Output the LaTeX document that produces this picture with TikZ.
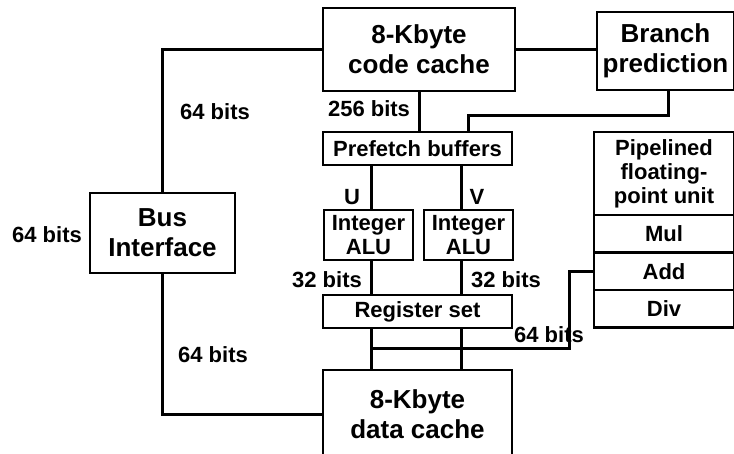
\documentclass[tikz,border=0pt]{standalone}
\usepackage{fontspec}
\setmainfont{Liberation Sans}
\usetikzlibrary{positioning, calc}
\newcommand{\bigtxt}{\fontsize{26}{30}\selectfont\bfseries}
\newcommand{\smalltxt}{\fontsize{22}{24}\selectfont\bfseries}
\tikzset{
  unit/.style={draw, line width=2.6pt, inner sep=0pt, outer sep=0pt, align=center, font=\bigtxt},
  subunit/.style={draw, line width=2.6pt, inner sep=0pt, outer sep=0pt, align=center, font=\smalltxt},
  buslabel/.style={font=\smalltxt, inner sep=0pt},
  bus/.style={line width=3pt}
}
\begin{document}
\begin{tikzpicture}[x=1pt, y=-1pt]
  \useasboundingbox (0,0) rectangle (734,453);
  \clip (0,0) rectangle (734,453);
  \fill[white] (0,0) rectangle (734,453);

  % main blocks
  \node[unit, minimum width=192pt, minimum height=83pt] (codecache) at (419,49.5) {8-Kbyte\\code cache};
  \node[unit, minimum width=137pt, minimum height=78pt] (branch) at (665.5,51) {Branch\\prediction};
  \node[unit, minimum width=145pt, minimum height=80pt] (busif) at (162.5,233) {Bus\\Interface};
  \node[unit, minimum width=189pt, minimum height=88pt] (datacache) at (417.5,414) {8-Kbyte\\data cache};

  % integer pipeline
  \node[subunit, minimum width=189pt, minimum height=33pt] (prefetch) at (417.5,148.5) {Prefetch buffers};
  \node[subunit, minimum width=89pt, minimum height=50pt] (aluU) at (368.5,235) {Integer\\ALU};
  \node[subunit, minimum width=89pt, minimum height=50pt] (aluV) at (468.5,235) {Integer\\ALU};
  \node[subunit, minimum width=189pt, minimum height=33pt] (regset) at (417.5,311.5) {Register set};

  % floating-point unit
  \node[subunit, minimum width=140pt, minimum height=83pt] (fptitle) at (664,173.5) {Pipelined\\floating-\\point unit};
  \node[subunit, minimum width=140pt, minimum height=37.5pt, below=0pt of fptitle] (mul) {Mul};
  \node[subunit, minimum width=140pt, minimum height=37.5pt, below=0pt of mul] (add) {Add};
  \node[subunit, minimum width=140pt, minimum height=37.5pt, below=0pt of add] (div) {Div};

  % labels
  \node[buslabel] (lblTop) at (215,112) {64 bits};
  \node[buslabel] (lblExt) at (47,235) {64 bits};
  \node[buslabel] (lblBot) at (213,355) {64 bits};
  \node[buslabel] (lblCode) at (369,109) {256 bits};
  \node[buslabel] (lblU) at (352,197) {U};
  \node[buslabel] (lblV) at (477,197) {V};
  \node[buslabel] (lblAluU) at (327,280) {32 bits};
  \node[buslabel] (lblAluV) at (506,280) {32 bits};
  \node[buslabel] (lblFp) at (549,335) {64 bits};

  % bus columns and bends
  \coordinate (uCol) at (371,0);
  \coordinate (vCol) at (461,0);
  \coordinate (brJog) at (668,115);
  \coordinate (pfIn) at (468,115);
  \coordinate (fpJog) at (569,348);

  % connectors
  \draw[bus] (codecache.east) -- (codecache.east -| branch.west);
  \draw[bus] (busif.north) |- (codecache.west);
  \draw[bus] (busif.south) |- (datacache.west);
  \draw[bus] (codecache.south) -- (codecache.south |- prefetch.north);
  \draw[bus] (brJog |- branch.south) -- (brJog) -- (pfIn) -- (pfIn |- prefetch.north);
  \draw[bus] (prefetch.south -| uCol) -- (aluU.north -| uCol);
  \draw[bus] (prefetch.south -| vCol) -- (aluV.north -| vCol);
  \draw[bus] (aluU.south -| uCol) -- (regset.north -| uCol);
  \draw[bus] (aluV.south -| vCol) -- (regset.north -| vCol);
  \draw[bus] (regset.south -| uCol) -- (datacache.north -| uCol);
  \draw[bus] (regset.south -| vCol) -- (datacache.north -| vCol);
  \draw[bus] (uCol |- fpJog) -- (fpJog) |- (add.west);
\end{tikzpicture}
\end{document}
